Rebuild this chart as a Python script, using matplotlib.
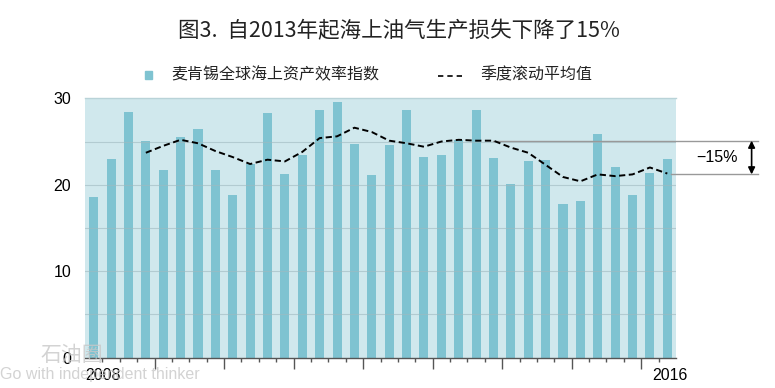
import matplotlib
matplotlib.use("Agg")
import matplotlib.pyplot as plt
from matplotlib.lines import Line2D
from matplotlib.patches import Rectangle

plt.rcParams['font.family'] = ['Noto Sans CJK SC', 'DejaVu Sans']

# Data (quarterly, 2008 Q1 - 2016 Q2)
index_values = [18.6, 23.0, 28.4, 25.1, 21.7, 25.5, 26.4, 21.7, 18.8, 22.4,
                28.3, 21.2, 23.4, 28.6, 29.6, 24.7, 21.1, 24.6, 28.7, 23.2,
                23.5, 25.2, 28.6, 23.1, 20.1, 22.8, 22.9, 17.8, 18.1, 25.9,
                22.0, 18.8, 21.4, 23.0]
rolling_avg = [None, None, None, 23.7, 24.5, 25.2, 24.8, 23.9, 23.2, 22.4,
               22.9, 22.7, 23.8, 25.4, 25.6, 26.6, 26.1, 25.1, 24.8, 24.4,
               25.0, 25.2, 25.1, 25.1, 24.3, 23.7, 22.3, 20.9, 20.4, 21.2,
               21.0, 21.2, 22.0, 21.3]
y_ticks = [0, 10, 20, 30]
x_labels = ['2008', '2016']
title = '图3.  自2013年起海上油气生产损失下降了15%'
legend_bar = '麦肯锡全球海上资产效率指数'
legend_line = '季度滚动平均值'
change_label = '\u221215%'
ref_high = 25.1
ref_low = 21.2

bar_color = '#7fc3d1'
bg_color = '#d0e8ed'

W, H = 775, 388
fig = plt.figure(figsize=(W / 100, H / 100), dpi=100)
ax = fig.add_axes([85 / W, 1 - 357.7 / H, (676 - 85) / W, (357.7 - 98.3) / H])
ax.set_facecolor(bg_color)

n = len(index_values)
xs = list(range(n))
ax.bar(xs, index_values, width=0.52, color=bar_color, zorder=2)

avg_x = [x for x, v in zip(xs, rolling_avg) if v is not None]
avg_y = [v for v in rolling_avg if v is not None]
ax.plot(avg_x, avg_y, color='black', lw=1.4, linestyle=(0, (3.2, 1.8)), zorder=4)

ax.set_xlim(-0.5, n - 0.5)
ax.set_ylim(0, 30)

# gridlines
for g in [5, 10, 15, 20, 25]:
    ax.axhline(g, color='#9fb9bf', lw=0.8, alpha=0.6, zorder=3)

for s in ['left', 'right']:
    ax.spines[s].set_visible(False)
ax.spines['top'].set_color('#b9d3d8')
ax.spines['top'].set_linewidth(1.0)
ax.spines['bottom'].set_color('#555555')
ax.spines['bottom'].set_linewidth(1.0)

ax.set_yticks(y_ticks)
ax.set_yticklabels([str(t) for t in y_ticks], family='Liberation Sans', fontsize=11.5)
ax.tick_params(axis='y', length=0, pad=10)

major = [i + 3.5 for i in range(0, n - 4, 4)]
minor = [i + 0.5 for i in range(0, n - 1) if (i + 0.5) not in major]
ax.set_xticks(major)
ax.set_xticklabels([])
ax.set_xticks(minor, minor=True)
ax.tick_params(axis='x', which='major', length=8, width=1, color='#555555', direction='out')
ax.tick_params(axis='x', which='minor', length=3, width=1, color='#555555', direction='out')

ax.text(0, -0.07, x_labels[0], transform=ax.transAxes, ha='left', va='center',
        family='Liberation Sans', fontsize=11.5)
ax.text((688 - 85) / (676 - 85), -0.07, x_labels[1], transform=ax.transAxes, ha='right',
        va='center', family='Liberation Sans', fontsize=11.5)

# reference lines and arrow
ax.plot([22.97, 38.2], [ref_high, ref_high], color='#999999', lw=1.0, clip_on=False, zorder=3)
ax.plot([33.2, 38.2], [ref_low, ref_low], color='#999999', lw=1.0, clip_on=False, zorder=3)
ax.annotate('', xy=(37.85, ref_low), xytext=(37.85, ref_high),
            arrowprops=dict(arrowstyle='<|-|>', color='black', lw=1.2,
                            mutation_scale=10, shrinkA=0, shrinkB=0),
            annotation_clip=False)
ax.text(35.85, (ref_high + ref_low) / 2, change_label, ha='center', va='center',
        family='Liberation Sans', fontsize=11.5, clip_on=False)

# title
fig.text(399 / W, 1 - 31 / H, title, ha='center', va='center', fontsize=15.5, color='#222222')

# legend
fig.patches.append(Rectangle((145 / W, 1 - 79 / H), 7 / W, 8 / H,
                             transform=fig.transFigure, color=bar_color))
fig.text(171 / W, 1 - 75 / H, legend_bar, ha='left', va='center', fontsize=11.5, color='#222222')
fig.lines.append(Line2D([438 / W, 464 / W], [1 - 76 / H, 1 - 76 / H], transform=fig.transFigure,
                        color='black', lw=1.2, linestyle=(0, (3.2, 2.4))))
fig.text(480 / W, 1 - 75 / H, legend_line, ha='left', va='center', fontsize=11.5, color='#222222')

# watermark
fig.text(40 / W, 1 - 355 / H, '石油圈', ha='left', va='center', fontsize=15, color='#c8c8c8', alpha=0.8)
fig.text(0 / W, 1 - 375 / H, 'Go with independent thinker', ha='left', va='center',
         fontsize=11.5, color='#c8c8c8', family='Liberation Sans', alpha=0.8)

fig.savefig('out.png', dpi=100)
